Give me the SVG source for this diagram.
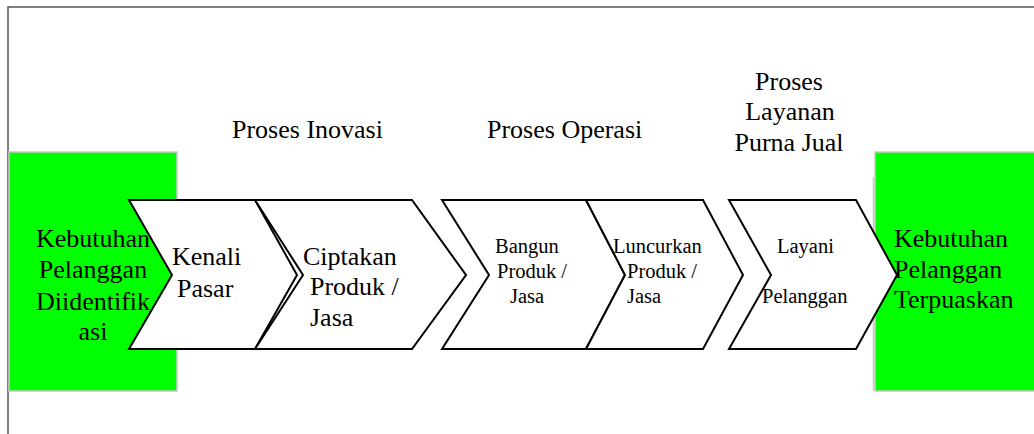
<svg xmlns="http://www.w3.org/2000/svg" width="1034" height="434" viewBox="0 0 1034 434">
<style>
  .frame { stroke: #555; stroke-width: 1.5; fill: none; }
  .green { fill: #00ff00; stroke: #c8c8c8; stroke-width: 1.5; }
  .chev { fill: #fff; stroke: #000; stroke-width: 2; stroke-linejoin: miter; }
  .big { font-size: 26px; }
  .small { font-size: 20.5px; }
</style>
<rect width="1034" height="434" fill="#fff"/>
<g id="frame">
  <path class="frame" d="M8,434 V7 H1034"/>
</g>
<g id="labels" font-family="Liberation Serif, DejaVu Serif, serif" fill="#000">
  <text class="big" x="232" y="138">Proses Inovasi</text>
  <text class="big" x="487" y="138">Proses Operasi</text>
  <text class="big" text-anchor="middle" x="789" y="90">Proses</text>
  <text class="big" text-anchor="middle" x="790" y="120">Layanan</text>
  <text class="big" text-anchor="middle" x="789" y="151">Purna Jual</text>
</g>
<g id="start-box">
  <rect class="green" x="9" y="152" width="168" height="239"/>
</g>
<g id="end-box">
  <rect class="green" x="875" y="152" width="162" height="239"/>
  <line x1="873.5" y1="177" x2="873.5" y2="391" stroke="#c8c8c8" stroke-width="1.5"/>
</g>
<g id="kenali-pasar">
  <polygon class="chev" points="129,200 255,200 297,275 255,349 129,349 172,275"/>
</g>
<g id="ciptakan">
  <polygon class="chev" points="255,200 412,200 466,275 412,349 255,349 303,275"/>
</g>
<g id="bangun">
  <polygon class="chev" points="442,200 586,200 625,275 586,349 442,349 489,275"/>
</g>
<g id="luncurkan">
  <polygon class="chev" points="586,200 703,200 743,275 703,349 586,349 625,275"/>
</g>
<g id="layani">
  <polygon class="chev" points="729,200 856,200 897,275 856,349 729,349 771,275"/>
</g>
<g id="node-texts" font-family="Liberation Serif, DejaVu Serif, serif" fill="#000">
  <text class="big" text-anchor="middle" x="93" y="247">Kebutuhan</text>
  <text class="big" text-anchor="middle" x="93" y="278">Pelanggan</text>
  <text class="big" text-anchor="middle" x="93" y="310">Diidentifik</text>
  <text class="big" text-anchor="middle" x="93" y="340">asi</text>

  <text class="big" x="172" y="265">Kenali</text>
  <text class="big" x="177" y="297">Pasar</text>

  <text class="big" x="303" y="265">Ciptakan</text>
  <text class="big" x="310" y="295">Produk /</text>
  <text class="big" x="310" y="326">Jasa</text>

  <text class="small" x="495" y="253">Bangun</text>
  <text class="small" x="497" y="278">Produk /</text>
  <text class="small" x="510" y="303">Jasa</text>

  <text class="small" x="613" y="253">Luncurkan</text>
  <text class="small" x="627" y="278">Produk /</text>
  <text class="small" x="627" y="303">Jasa</text>

  <text class="small" x="777" y="253">Layani</text>
  <text class="small" x="762" y="303">Pelanggan</text>

  <text class="big" x="894" y="247">Kebutuhan</text>
  <text class="big" x="894" y="278">Pelanggan</text>
  <text class="big" x="894" y="308">Terpuaskan</text>
</g>
</svg>
